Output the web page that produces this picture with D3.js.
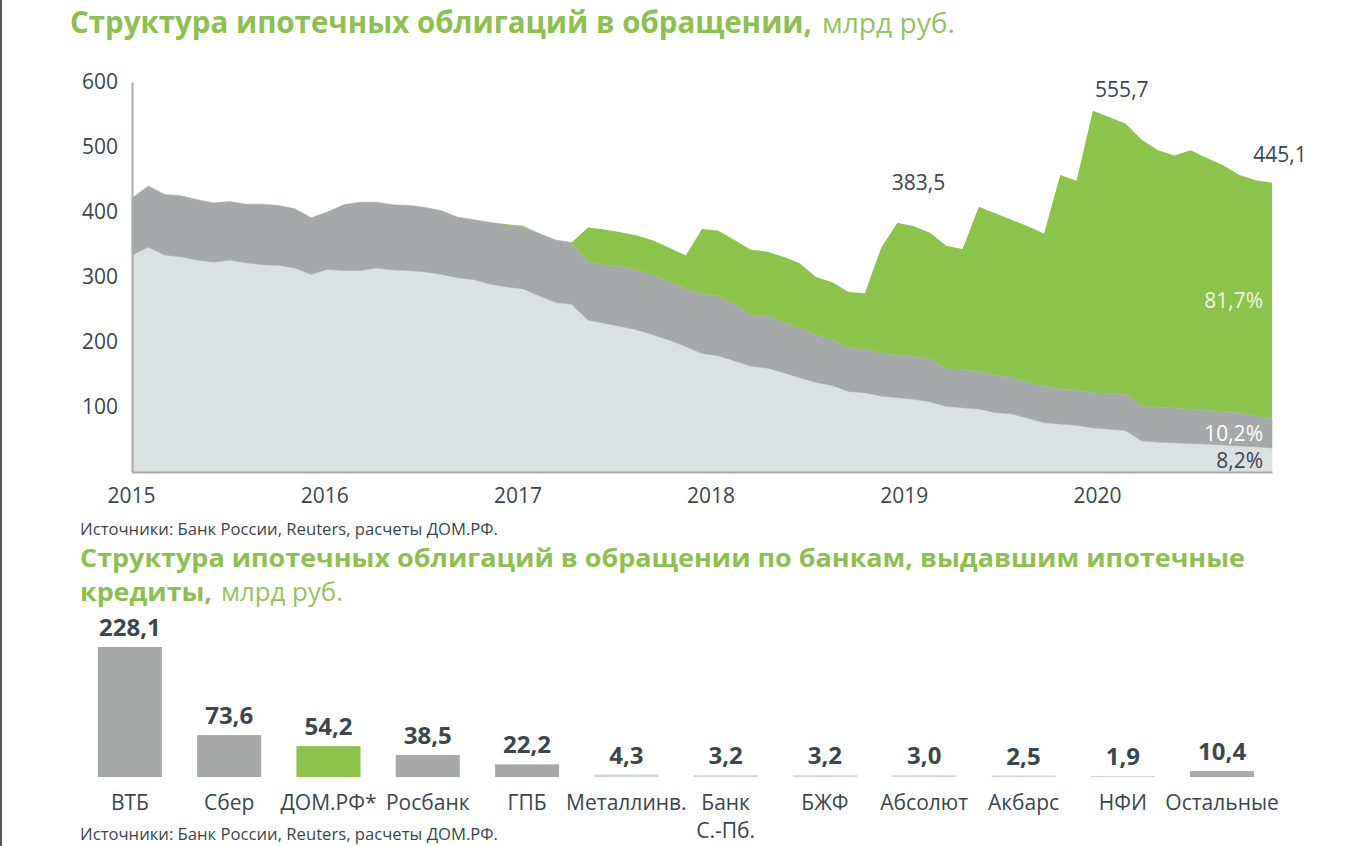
<!DOCTYPE html>
<html><head><meta charset="utf-8">
<script src="https://cdn.jsdelivr.net/npm/d3@7/dist/d3.min.js"></script>
<style>
html,body{margin:0;padding:0;background:#fff;}
svg{display:block;}
text{font-family:"Open Sans","DejaVu Sans",sans-serif;}
</style></head>
<body>
<svg id="chart" width="1349" height="846"></svg>
<script>
// ---------- DATA ----------
// Area chart: monthly, from Jan 2015 (71 points), bln RUB, stacked bottom->top
const lightSeries = [334,346,334,331,326,323,326,322,319,318,314,304,312,310,310,314,311,310,308,304,
  299,296,289,285,282,271,261,258,234,229,224,219,211,203,193,182.5,179,171,163,160,
  153,145,138,133,124,122,117,114.5,112,108,101,99,97,91.5,89.5,83,76,74,72,68,
  66,64,48,46,45,44,43,41.5,40,39,37];
const darkSeries = [87,94,93,94,93,91,90,90,93,92,91,87,88,101,105,101,100,100,99,98,
  93,92,95,95,95,96,96,95,90,90,93,92,92,90,89,91.5,92.5,87,79,80,
  78,76,73,71,67,67,66,65.5,66,66,58,59,58,57.5,56.5,55,56,54,54,54,
  55,55.6,54,54,53.5,53,52,52.5,51,48,45];
const greenSeries = [0,0,0,0,0,0,0,0,0,0,0,0,0,0,0,0,0,0,0,0,
  0,0,0,1,2,0,0,0,52,54,52,53,53,52,51,100,99.5,99,100,99,
  100,100,89,88,86,86,162,203.5,200,194,189,185,253,249,242,240,235,329,322,433.7,
  425,416.4,409,395,388.5,398,388,378,366,362,363.1];
const yearLabels = [2015, 2016, 2017, 2018, 2019, 2020];
const yTicks = [100, 200, 300, 400, 500, 600];
const areaAnnotations = [
  {i: 47, text: "383,5"},
  {i: 59, text: "555,7"},
  {i: 70, text: "445,1"}
];
const shareLabels = ["81,7%", "10,2%", "8,2%"]; // green, dark, light

// Bar chart
const banks = ["ВТБ","Сбер","ДОМ.РФ*","Росбанк","ГПБ","Металлинв.","Банк\nС.-Пб.","БЖФ","Абсолют","Акбарс","НФИ","Остальные"];
const bankValues = [228.1,73.6,54.2,38.5,22.2,4.3,3.2,3.2,3.0,2.5,1.9,10.4];
const bankValueLabels = ["228,1","73,6","54,2","38,5","22,2","4,3","3,2","3,2","3,0","2,5","1,9","10,4"];
const highlightBank = "ДОМ.РФ*";

// ---------- STYLE ----------
const C = {
  green: "#8cc34b", dark: "#a6a9a9", light: "#dbe0e1", text: "#3b474d",
  title: "#8dc04f", titleReg: "#93c45e", axis: "#a9abab", bar: "#a7a9a9", tinyBar: "#d2d5d5"
};
// label placement offsets (px) per annotation, relative to the data point
const annotOffsets = {47: [21, -33], 59: [29, -14], 70: [8, -21]};

const svg = d3.select("#chart");
svg.append("rect").attr("width",1349).attr("height",846).attr("fill","#fff");
svg.append("line").attr("x1",1).attr("x2",1).attr("y1",0).attr("y2",846)
  .attr("stroke","#555").attr("stroke-width",2);

function fitText(sel, len){ sel.attr("textLength", len).attr("lengthAdjust","spacingAndGlyphs"); return sel; }

// ---------- TITLES ----------
fitText(svg.append("text").attr("x",70).attr("y",33).attr("font-size",30).attr("font-weight","bold")
  .attr("fill",C.title).text("Структура ипотечных облигаций в обращении,"), 742);
fitText(svg.append("text").attr("x",822).attr("y",33).attr("font-size",28)
  .attr("fill",C.titleReg).text("млрд руб."), 133);

// ---------- AREA CHART ----------
const n = lightSeries.length;
const x = d3.scaleLinear().domain([0, n-1]).range([132, 1272]);
const xYear = d3.scaleLinear().domain([2015, 2020]).range([131, 1097]);
const y = d3.scaleLinear().domain([0, 600]).range([472, 82]);

const rows = d3.range(n).map(i => ({i, light: lightSeries[i], dark: darkSeries[i], green: greenSeries[i]}));
const keys = ["light","dark","green"];
const stacked = d3.stack().keys(keys)(rows);
const fills = {light: C.light, dark: C.dark, green: C.green};
const area = d3.area().x(d => x(d.data.i)).y0(d => y(d[0])).y1(d => y(d[1]));

svg.append("g").selectAll("path").data(stacked).join("path")
  .attr("d", area).attr("fill", d => fills[d.key])
  .attr("stroke", d => d.key === "green" ? "none" : fills[d.key]).attr("stroke-width", 0.6);

// axes
const yAxis = svg.append("g").attr("transform", `translate(${x(0)},0)`)
  .call(d3.axisLeft(y).tickValues(yTicks).tickSize(0).tickPadding(14));
yAxis.select(".domain").attr("stroke", C.axis).attr("stroke-width", 2);
yAxis.selectAll("text").attr("font-size", 21).attr("fill", C.text)
  .attr("font-family", "'Open Sans', sans-serif");

const xAxisLine = svg.append("g").attr("transform", `translate(0,${y(0)})`)
  .call(d3.axisBottom(x).tickValues([]).tickSizeOuter(0));
xAxisLine.select(".domain").attr("stroke", C.axis).attr("stroke-width", 2);

const xLab = svg.append("g").attr("transform", `translate(0,${y(0)})`)
  .call(d3.axisBottom(xYear).tickValues(yearLabels).tickFormat(d3.format("d")).tickSize(0).tickPadding(16));
xLab.select(".domain").remove();
xLab.selectAll("text").attr("font-size", 21).attr("fill", C.text)
  .attr("font-family", "'Open Sans', sans-serif");

// annotations of totals
const total = i => lightSeries[i] + darkSeries[i] + greenSeries[i];
svg.append("g").selectAll("text").data(areaAnnotations).join("text")
  .attr("x", d => x(d.i) + annotOffsets[d.i][0])
  .attr("y", d => y(total(d.i)) + annotOffsets[d.i][1])
  .attr("text-anchor","middle").attr("font-size", 21).attr("fill", C.text)
  .text(d => d.text);

// shares at the end
const last = n-1;
const shareY = [
  y(lightSeries[last] + darkSeries[last] + greenSeries[last]*0.5),
  y(lightSeries[last] + darkSeries[last]*0.5),
  y(lightSeries[last]*0.5)
];
const shareColors = ["#eef6e2", "#ffffff", C.text];
svg.append("g").selectAll("text").data(shareLabels).join("text")
  .attr("x", x(last) - 9).attr("y", (d,k) => shareY[k])
  .attr("dy", "0.36em")
  .attr("text-anchor","end").attr("font-size", 21).attr("fill", (d,k) => shareColors[k])
  .text(d => d);

// source 1
fitText(svg.append("text").attr("x",80).attr("y",535).attr("font-size",15.5).attr("fill",C.text)
  .text("Источники: Банк России, Reuters, расчеты ДОМ.РФ."), 418);

// ---------- TITLE 2 ----------
fitText(svg.append("text").attr("x",80).attr("y",567).attr("font-size",25).attr("font-weight","bold")
  .attr("fill",C.title).text("Структура ипотечных облигаций в обращении по банкам, выдавшим ипотечные"), 1165);
fitText(svg.append("text").attr("x",80).attr("y",601).attr("font-size",25).attr("font-weight","bold")
  .attr("fill",C.title).text("кредиты,"), 132);
fitText(svg.append("text").attr("x",221).attr("y",601).attr("font-size",25)
  .attr("fill",C.titleReg).text("млрд руб."), 122);

// ---------- BAR CHART ----------
const bx = d3.scaleBand().domain(banks).range([80, 1272]).paddingInner(0.355).paddingOuter(0.18);
const by = d3.scaleLinear().domain([0, 228.1]).range([777, 647]);

const barG = svg.append("g");
barG.selectAll("rect").data(banks).join("rect")
  .attr("x", d => bx(d)).attr("width", bx.bandwidth())
  .attr("y", (d,k) => by(bankValues[k])).attr("height", (d,k) => by(0) - by(bankValues[k]))
  .attr("fill", (d,k) => d === highlightBank ? C.green : (bankValues[k] < 5 ? C.tinyBar : C.bar));

barG.selectAll("text.val").data(banks).join("text").attr("class","val")
  .attr("x", d => bx(d) + bx.bandwidth()/2)
  .attr("y", (d,k) => Math.min(by(bankValues[k]) - 11, 768))
  .attr("text-anchor","middle").attr("font-size", 24).attr("font-weight","bold").attr("fill", C.text)
  .text((d,k) => bankValueLabels[k]);

const catG = barG.selectAll("text.cat").data(banks).join("text").attr("class","cat")
  .attr("x", d => bx(d) + bx.bandwidth()/2).attr("y", 810)
  .attr("text-anchor","middle").attr("font-size", 21).attr("fill", C.text);
catG.selectAll("tspan").data(d => d.split("\n")).join("tspan")
  .attr("x", function(){ return d3.select(this.parentNode).attr("x"); })
  .attr("dy", (d,k) => k === 0 ? 0 : 28).text(d => d);

// source 2
fitText(svg.append("text").attr("x",80).attr("y",840).attr("font-size",15.5).attr("fill",C.text)
  .text("Источники: Банк России, Reuters, расчеты ДОМ.РФ."), 418);
</script>
</body></html>
